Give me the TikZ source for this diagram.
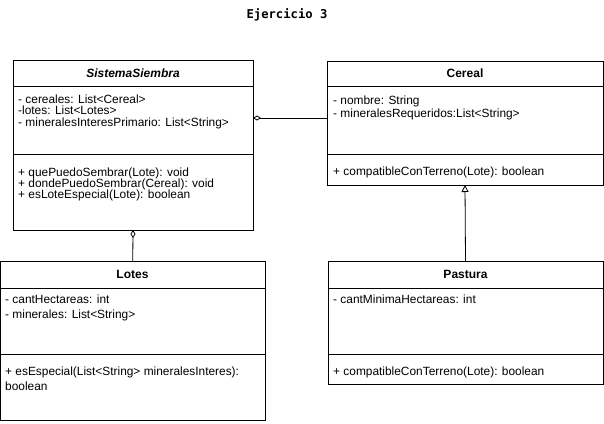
\documentclass[tikz,border=0pt]{standalone}
\usepackage{fontspec}
\setmainfont{Liberation Sans}
\newfontfamily\monofont{DejaVu Sans Mono}
\usetikzlibrary{arrows.meta,calc}

\begin{document}
\begin{tikzpicture}[x=1pt,y=-1pt,
  clase/.style={draw,line width=0.8pt,anchor=north west,inner sep=0pt,outer sep=0pt},
  nombre/.style={inner sep=0pt,font=\bfseries\fontsize{12}{13}\selectfont},
  campos/.style={anchor=base west,align=left,inner sep=0pt,font=\fontsize{11.9}{#1}\selectfont},
  campos/.default=14.5,
  linea/.style={line width=0.8pt},
  agregacion/.style={linea,{Diamond[open,length=8pt,width=5pt]}-},
  herencia/.style={linea,-{Triangle[open,length=7pt,width=7pt]}}]
\useasboundingbox (0,0) rectangle (604,423);
\node[font=\monofont\bfseries\fontsize{12.2}{13}\selectfont] (titulo) at (287,15) {Ejercicio 3};
\node[clase,minimum width=240pt,minimum height=170pt] (sistema) at (13,60) {};
\node[clase,minimum width=276pt,minimum height=124pt] (cereal) at (327,61) {};
\node[clase,minimum width=264.5pt,minimum height=159pt] (lotes) at (0.5,261) {};
\node[clase,minimum width=275pt,minimum height=123pt] (pastura) at (328,261) {};
\draw[linea] ($(sistema.north west)+(0,26)$) -- ($(sistema.north east)+(0,26)$);
\draw[linea] ($(sistema.north west)+(0,94)$) -- ($(sistema.north east)+(0,94)$);
\draw[linea] ($(cereal.north west)+(0,25)$) -- ($(cereal.north east)+(0,25)$);
\draw[linea] ($(cereal.north west)+(0,93)$) -- ($(cereal.north east)+(0,93)$);
\draw[linea] ($(lotes.north west)+(0,27)$) -- ($(lotes.north east)+(0,27)$);
\draw[linea] ($(lotes.north west)+(0,93)$) -- ($(lotes.north east)+(0,93)$);
\draw[linea] ($(pastura.north west)+(0,27)$) -- ($(pastura.north east)+(0,27)$);
\draw[linea] ($(pastura.north west)+(0,93)$) -- ($(pastura.north east)+(0,93)$);
\node[nombre] (sistemaNombre) at (133,73) {\itshape SistemaSiembra};
\node[nombre] (cerealNombre) at (465,73.5) {Cereal};
\node[nombre] (lotesNombre) at (132.5,274.5) {Lotes};
\node[nombre] (pasturaNombre) at (465.5,274.5) {Pastura};
\node[campos=11.6] (sistemaAtrib) at (18,126.2) {- cereales: List<Cereal>\\-lotes: List<Lotes>\\- mineralesInteresPrimario: List<String>};
\node[campos=11.3] (sistemaMet) at (18,198.6) {+ quePuedoSembrar(Lote): void\\+ dondePuedoSembrar(Cereal): void\\+ esLoteEspecial(Lote): boolean};
\node[campos=13.5] (cerealAtrib) at (333,117.5) {- nombre: String\\- mineralesRequeridos:List<String>};
\node[campos] (cerealMet) at (333,175) {+ compatibleConTerreno(Lote): boolean};
\node[campos] (lotesAtrib) at (5,318) {- cantHectareas: int\\- minerales: List<String>};
\node[campos] (lotesMet) at (5,390) {+ esEspecial(List<String> mineralesInteres):\\boolean};
\node[campos] (pasturaAtrib) at (333,303.5) {- cantMinimaHectareas: int};
\node[campos] (pasturaMet) at (333,375) {+ compatibleConTerreno(Lote): boolean};
\coordinate (agreg) at (0,118);
\draw[agregacion] (sistema.east |- agreg) -- (cereal.west |- agreg);
\draw[agregacion] (sistema.south) -- (lotes.north);
\draw[herencia] (pastura.north) -- (cereal.south);
\end{tikzpicture}
\end{document}
